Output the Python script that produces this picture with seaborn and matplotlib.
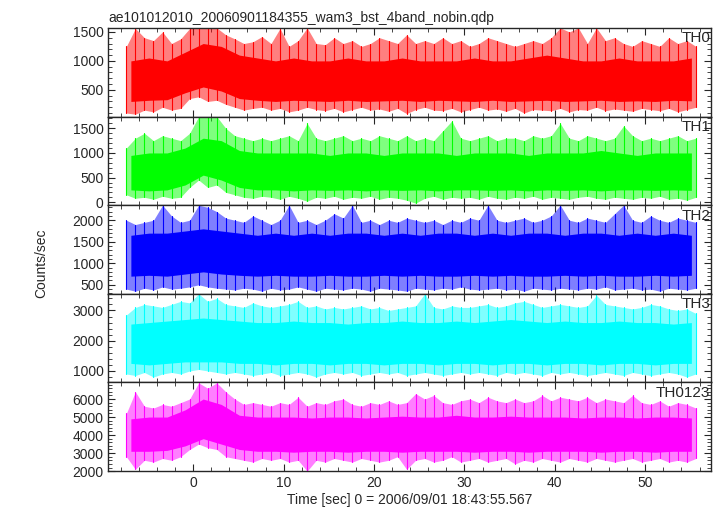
import numpy as np
import pandas as pd
import matplotlib
matplotlib.use("Agg")
import matplotlib.pyplot as plt
from matplotlib.ticker import MultipleLocator
import seaborn as sns

# bin centres (1 s) for the spike envelopes, 2 s for the dense core
t_fine = np.arange(-7.4, 56.0, 1.0)
t_core = np.arange(-6.9, 56.0, 2.0)

bands = ["TH0", "TH1", "TH2", "TH3", "TH0123"]
colors = ["#ff0000", "#00ff00", "#0000ff", "#00ffff", "#ff00ff"]
ylims = [(40, 1570), (-60, 1740), (290, 2350), (620, 3550), (2000, 6920)]
ymajor = [500, 500, 500, 1000, 1000]
yminor = [100, 100, 100, 200, 200]

th0_hi = [1250, 1560, 1400, 1350, 1500, 1300, 1380, 1560,
          1570, 1570, 1570, 1450, 1380, 1300, 1330, 1420,
          1300, 1560, 1250, 1350, 1570, 1300, 1280, 1400,
          1300, 1350, 1250, 1300, 1400, 1350, 1300, 1450,
          1300, 1350, 1300, 1400, 1300, 1350, 1250, 1300,
          1400, 1350, 1300, 1250, 1300, 1350, 1300, 1400,
          1570, 1500, 1570, 1300, 1570, 1350, 1400, 1300,
          1250, 1350, 1300, 1250, 1400, 1300, 1350, 1250]
th0_lo = [100, 80, 150, 120, 200, 150, 180, 350,
          380, 300, 320, 250, 200, 150, 180, 200,
          150, 180, 120, 150, 200, 160, 140, 180,
          120, 160, 200, 150, 170, 130, 180, 90,
          160, 200, 150, 140, 180, 120, 160, 200,
          150, 170, 130, 180, 100, 160, 150, 140,
          180, 120, 160, 150, 200, 140, 170, 150,
          130, 180, 160, 140, 180, 120, 160, 200]
th0_core_hi = [1000, 1050, 1000, 1150, 1300, 1250, 1100, 1050, 1000, 1050, 1000, 1000, 1050, 1000, 1000, 1050,
               1000, 1000, 1000, 1050, 1000, 1000, 1050, 1100, 1050, 1000, 1000, 1050, 1000, 1000, 1000, 1050]
th0_core_lo = [300, 320, 330, 450, 550, 480, 350, 320, 300, 320, 310, 300, 320, 300, 310, 320,
               300, 320, 310, 300, 320, 300, 310, 320, 300, 310, 320, 300, 310, 300, 320, 310]

th1_hi = [1100, 1300, 1400, 1250, 1350, 1300, 1250, 1400,
          1740, 1740, 1740, 1500, 1350, 1300, 1250, 1300,
          1250, 1300, 1350, 1250, 1600, 1300, 1250, 1300,
          1350, 1250, 1300, 1250, 1350, 1300, 1250, 1350,
          1250, 1300, 1250, 1450, 1650, 1300, 1250, 1300,
          1350, 1250, 1300, 1300, 1250, 1350, 1300, 1350,
          1600, 1300, 1250, 1350, 1300, 1250, 1300, 1550,
          1350, 1250, 1300, 1250, 1300, 1350, 1250, 1300]
th1_lo = [150, 80, 100, 60, 120, 80, 100, 300,
          450, 300, 350, 200, 150, 100, 80, 120,
          100, 60, 120, 80, 20, 100, 80, 120,
          60, 100, 80, 120, 60, 100, 80, 40,
          -20, 80, 120, 60, 100, 80, 100, 60,
          120, 80, 60, 100, 80, 120, 60, 100,
          80, 60, 100, 120, 80, 60, 100, 80,
          60, 100, 80, 120, 60, 80, 40, 100]
th1_core_hi = [950, 1000, 1000, 1100, 1300, 1250, 1050, 1000, 1000, 1000, 1000, 950, 1000, 1000, 950, 1000,
               1000, 1000, 950, 1000, 1000, 1000, 950, 1000, 1000, 1000, 1050, 1000, 950, 1000, 1000, 1000]
th1_core_lo = [250, 230, 250, 350, 550, 450, 300, 250, 250, 230, 250, 240, 250, 230, 250, 240,
               250, 230, 250, 250, 240, 250, 230, 250, 240, 250, 230, 250, 250, 240, 250, 240]

th2_hi = [2000, 1900, 1950, 2000, 2350, 2100, 1950, 2000,
          2350, 2300, 2200, 2050, 2000, 1950, 2100, 2000,
          1900, 2000, 2350, 1950, 2000, 1900, 2000, 2150,
          2050, 2350, 1950, 2000, 1900, 2000, 1950, 2050,
          2000, 1950, 2000, 1900, 2000, 1950, 2050, 2000,
          2350, 2000, 1950, 2000, 2050, 1950, 2000, 2100,
          2350, 2000, 1950, 2050, 2000, 1950, 2150, 2350,
          2000, 1950, 2100, 2000, 1950, 2050, 2000, 1950]
th2_lo = [400, 350, 420, 380, 450, 400, 420, 450,
          500, 450, 420, 400, 380, 420, 400, 350,
          420, 380, 400, 450, 400, 350, 420, 400,
          380, 420, 400, 350, 420, 400, 380, 350,
          420, 400, 380, 420, 400, 450, 400, 380,
          400, 420, 380, 400, 350, 420, 400, 380,
          420, 400, 380, 420, 400, 450, 380, 400,
          420, 380, 400, 350, 420, 400, 380, 420]
th2_core_hi = [1650, 1700, 1700, 1750, 1800, 1750, 1700, 1650, 1700, 1650, 1700, 1650, 1700, 1700, 1650, 1700,
               1650, 1700, 1700, 1650, 1700, 1650, 1700, 1700, 1650, 1700, 1700, 1650, 1700, 1650, 1700, 1650]
th2_core_lo = [700, 720, 700, 750, 800, 750, 720, 700, 720, 700, 700, 720, 700, 700, 720, 700,
               720, 700, 700, 720, 700, 720, 700, 700, 720, 700, 720, 700, 700, 720, 700, 720]

th3_hi = [2850, 3100, 3200, 3150, 3100, 3200, 3300, 3250,
          3550, 3300, 3400, 3200, 3150, 3100, 3250, 3150,
          3100, 3150, 3200, 3300, 3100, 3150, 3050, 3100,
          3050, 3100, 3150, 3050, 3100, 3000, 3050, 3100,
          3150, 3550, 3100, 3050, 3150, 3100, 3100, 3150,
          3200, 3100, 3150, 3250, 3300, 3200, 3100, 3150,
          3200, 3150, 3100, 3150, 3500, 3200, 3150, 3100,
          3050, 3100, 3200, 3150, 3050, 3000, 3050, 2900]
th3_lo = [900, 850, 950, 800, 900, 950, 900, 1000,
          1050, 1000, 950, 900, 950, 900, 850, 900,
          950, 850, 900, 950, 900, 800, 900, 950,
          900, 950, 850, 900, 950, 900, 950, 850,
          900, 950, 900, 850, 900, 950, 900, 950,
          900, 850, 950, 900, 950, 900, 850, 950,
          900, 950, 900, 850, 900, 950, 900, 850,
          950, 900, 850, 900, 950, 900, 800, 900]
th3_core_hi = [2550, 2600, 2650, 2700, 2750, 2700, 2650, 2600, 2600, 2650, 2600, 2600, 2550, 2600, 2600, 2650,
               2600, 2600, 2650, 2600, 2650, 2700, 2650, 2600, 2650, 2600, 2600, 2650, 2600, 2600, 2550, 2600]
th3_core_lo = [1250, 1200, 1250, 1300, 1300, 1300, 1250, 1250, 1200, 1250, 1250, 1200, 1250, 1250, 1200, 1250,
               1250, 1200, 1250, 1250, 1200, 1250, 1250, 1200, 1250, 1250, 1200, 1250, 1250, 1200, 1250, 1250]

th0123_hi = [5200, 6400, 5600, 5500, 5700, 5600, 5800, 6000,
             6900, 6600, 6900, 6400, 6000, 5700, 5800, 5700,
             5600, 5800, 5700, 6100, 5600, 5800, 5700, 5900,
             6000, 5700, 5600, 5800, 5700, 5900, 5700, 5800,
             6300, 6000, 6200, 5800, 5700, 5900, 6000, 5800,
             6100, 5900, 5800, 6000, 5800, 5900, 6200, 5900,
             6100, 6000, 5900, 6100, 5800, 6000, 5900, 5800,
             6200, 5800, 5700, 5900, 5600, 5800, 5700, 5500]
th0123_lo = [2800, 2100, 2600, 2500, 2700, 2600, 2800, 3200,
             3500, 3300, 3200, 2800, 2700, 2600, 2500, 2700,
             2600, 2700, 2500, 2600, 2000, 2600, 2500, 2700,
             2600, 2500, 2700, 2600, 2500, 2600, 2800, 2100,
             2600, 2700, 2500, 2600, 2800, 2500, 2600, 2700,
             2500, 2600, 2700, 2400, 2600, 2500, 2700, 2600,
             2500, 2700, 2600, 2500, 2700, 2600, 2500, 2600,
             2700, 2500, 2600, 2700, 2500, 2600, 2500, 2700]
th0123_core_hi = [4900, 5000, 5000, 5400, 6000, 5700, 5100, 5000, 5000, 5000, 4950, 5000, 5000, 4950, 5000, 5050,
                  5000, 5000, 5100, 5000, 5000, 5050, 5000, 5000, 5000, 4950, 5000, 5000, 4950, 5000, 5000, 4950]
th0123_core_lo = [3100, 3100, 3150, 3400, 3800, 3500, 3200, 3100, 3100, 3050, 3100, 3100, 3050, 3100, 3100, 3050,
                  3100, 3100, 3100, 3050, 3100, 3100, 3050, 3100, 3100, 3100, 3050, 3100, 3100, 3050, 3100, 3100]

his = [th0_hi, th1_hi, th2_hi, th3_hi, th0123_hi]
los = [th0_lo, th1_lo, th2_lo, th3_lo, th0123_lo]
core_his = [th0_core_hi, th1_core_hi, th2_core_hi, th3_core_hi, th0123_core_hi]
core_los = [th0_core_lo, th1_core_lo, th2_core_lo, th3_core_lo, th0123_core_lo]

sns.set_style("ticks")
plt.rcParams["font.family"] = ["Liberation Sans", "DejaVu Sans"]
plt.rcParams["font.size"] = 10

fig, axes = plt.subplots(5, 1, figsize=(7.17, 5.16), dpi=100, sharex=True)
fig.subplots_adjust(left=0.151, right=0.992, top=0.946, bottom=0.087, hspace=0)

for i, ax in enumerate(axes):
    c = colors[i]
    ax.fill_between(t_fine, los[i], his[i], color=c, alpha=0.5, lw=0)
    ax.fill_between(t_core, core_los[i], core_his[i], color=c, lw=0)
    # one vertical stroke per 1 s bin, min to max
    strokes = pd.DataFrame({
        "t": np.concatenate([t_fine, t_fine]),
        "v": np.concatenate([los[i], his[i]]),
        "bin": np.concatenate([np.arange(len(t_fine)), np.arange(len(t_fine))]),
    })
    sns.lineplot(data=strokes, x="t", y="v", units="bin", estimator=None,
                 ax=ax, color=c, lw=0.8, sort=False)
    ax.set_ylim(*ylims[i])
    ax.set_xlim(-9.4, 57.3)
    ax.yaxis.set_major_locator(MultipleLocator(ymajor[i]))
    ax.yaxis.set_minor_locator(MultipleLocator(yminor[i]))
    ax.xaxis.set_major_locator(MultipleLocator(10))
    ax.xaxis.set_minor_locator(MultipleLocator(2))
    ax.tick_params(which="both", direction="in", top=True, right=True, labelsize=10)
    ax.tick_params(which="major", length=5)
    ax.tick_params(which="minor", length=3)
    ax.set_ylabel("")
    ax.set_xlabel("")
    for s in ax.spines.values():
        s.set_linewidth(1.0)
    ax.text(0.998, 0.96, bands[i], transform=ax.transAxes, ha="right", va="top", fontsize=11)

axes[0].set_title("ae101012010_20060901184355_wam3_bst_4band_nobin.qdp", loc="left", fontsize=10, pad=4)
axes[-1].set_xlabel("Time [sec] 0 = 2006/09/01 18:43:55.567", fontsize=10, labelpad=2)
fig.text(0.057, 0.49, "Counts/sec", rotation=90, ha="center", va="center", fontsize=10)

fig.savefig("out.png", dpi=100)
